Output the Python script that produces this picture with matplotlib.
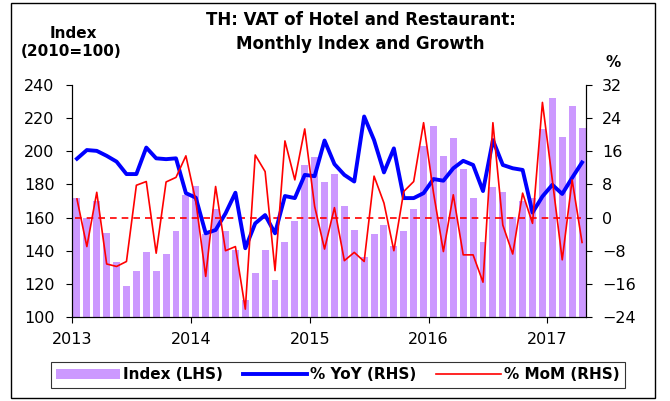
import matplotlib
matplotlib.use('Agg')
from matplotlib import pyplot as plt
from matplotlib.patches import Rectangle
import numpy as np

plt.rcParams['font.family'] = ['DejaVu Sans']

years = ['2013', '2014', '2015', '2016', '2017']
# monthly, Jan 2013 .. Apr 2017
index = [171.7, 159.6, 169.7, 150.6, 132.9, 118.9, 128.0, 139.3, 127.5, 138.3, 151.6, 173.7,
         179.1, 150.0, 165.0, 151.6, 140.5, 110.0, 126.5, 140.5, 122.5, 145.2, 158.0, 191.8,
         196.6, 181.5, 186.0, 166.9, 152.6, 136.0, 150.0, 155.4, 143.0, 152.0, 165.3, 203.3,
         215.3, 197.4, 208.3, 189.4, 172.1, 145.2, 178.6, 175.4, 160.1, 170.0, 172.0, 213.5,
         232.2, 208.7, 227.3, 214.0]
yoy = [14.2, 16.3, 16.1, 14.9, 13.5, 10.5, 10.5, 16.9, 14.3, 14.1, 14.3, 5.9,
       4.8, -3.8, -3.0, 1.0, 6.0, -7.4, -1.4, 0.6, -3.8, 5.2, 4.7, 10.3,
       10.0, 18.6, 12.9, 10.3, 8.7, 24.4, 18.7, 10.9, 16.7, 4.7, 4.7, 5.9,
       9.3, 8.9, 11.9, 13.7, 12.7, 6.4, 18.7, 12.7, 11.9, 11.5, 1.2, 5.1,
       7.9, 5.7, 9.6, 13.3]
mom = [4.5, -7.0, 6.1, -11.2, -11.8, -10.6, 7.8, 8.7, -8.6, 8.6, 9.7, 14.9,
       4.0, -14.2, 7.5, -8.0, -7.0, -22.1, 15.1, 11.1, -12.8, 18.5, 9.1, 21.4,
       2.7, -7.6, 2.4, -10.4, -8.4, -10.6, 10.0, 3.5, -8.0, 6.3, 8.7, 22.9,
       6.0, -8.2, 5.5, -9.0, -9.0, -15.6, 22.9, -1.8, -8.8, 5.9, -1.4, 27.8,
       9.1, -10.2, 9.1, -6.0]

x = np.arange(len(index)) + 0.5

fig = plt.figure(figsize=(6.7, 4.01), dpi=100)
ax = fig.add_axes([72/670, 1-317/401, (586-72)/670, (317-85)/401])
ax2 = ax.twinx()

ax.bar(x, index, width=0.7, color='#CC99FF', label='Index (LHS)')
ax.set_ylim(100, 240)
ax.set_yticks(range(100, 241, 20))
ax.set_xlim(0, 51.9)
ax.set_xticks([0, 12, 24, 36, 48])
ax.set_xticklabels(years)

ax2.axhline(0, xmin=0.005, xmax=0.99, color='red', lw=1.2, ls=(0, (4, 3)))
ax2.plot(x, yoy, color='#0000FF', lw=2.8, label='% YoY (RHS)')
ax2.plot(x, mom, color='#FF0000', lw=1.2, label='% MoM (RHS)')
ax2.set_ylim(-24, 32)
ax2.set_yticks(range(-24, 33, 8))

for a in (ax, ax2):
    a.spines['top'].set_visible(False)
    a.tick_params(direction='out', length=4.5, labelsize=11.5, width=0.8)
ax.tick_params(axis='y', pad=8)
ax2.tick_params(axis='y', pad=7)
ax.tick_params(axis='x', pad=6)

fig.text(0.538, 0.95, 'TH: VAT of Hotel and Restaurant:', ha='center', va='center',
         fontsize=12, fontweight='bold')
fig.text(0.538, 0.89, 'Monthly Index and Growth', ha='center', va='center',
         fontsize=12, fontweight='bold')
fig.text(0.109, 0.917, 'Index', ha='center', va='center', fontsize=11, fontweight='bold')
fig.text(0.106, 0.872, '(2010=100)', ha='center', va='center', fontsize=11, fontweight='bold')
fig.text(0.915, 0.843, '%', ha='center', va='center', fontsize=11, fontweight='bold')

h1, l1 = ax.get_legend_handles_labels()
h2, l2 = ax2.get_legend_handles_labels()
leg = fig.legend(h1 + h2, l1 + l2, loc='center', bbox_to_anchor=(0.504, 0.0655),
                 ncol=3, frameon=True, fancybox=False, edgecolor='black',
                 prop={'weight': 'bold', 'size': 11}, handlelength=4.2,
                 columnspacing=1.3, handletextpad=0.2, borderpad=0.35)
leg.get_frame().set_linewidth(0.8)

fig.patches.append(Rectangle((11/670, 3/401), 644/670, 395/401, transform=fig.transFigure,
                             fill=False, edgecolor='black', lw=1))

fig.savefig('out.png', dpi=100)
